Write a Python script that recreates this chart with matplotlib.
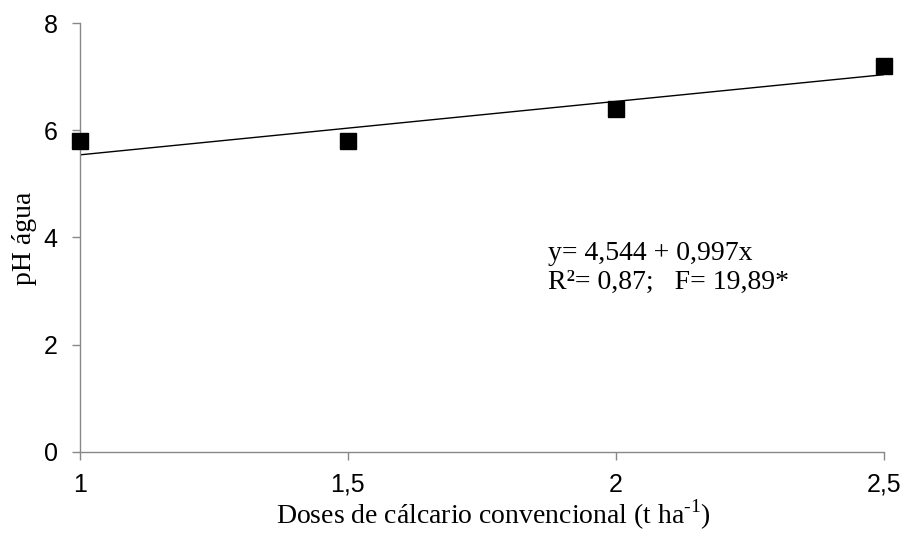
import matplotlib
matplotlib.use("Agg")
import matplotlib.pyplot as plt
import numpy as np

plt.rcParams["mathtext.fontset"] = "custom"
plt.rcParams["mathtext.rm"] = "Liberation Serif"

doses = [1.0, 1.5, 2.0, 2.5]
ph_agua = [5.8, 5.8, 6.4, 7.2]
intercept = 4.544
slope = 0.997
x_ticks = [1.0, 1.5, 2.0, 2.5]
x_tick_labels = ["1", "1,5", "2", "2,5"]
y_ticks = [0, 2, 4, 6, 8]

fig = plt.figure(figsize=(9.04, 5.36), dpi=100)
ax = fig.add_axes([0.0885, 0.157, 0.889, 0.800])

x_fit = np.array([doses[0], doses[-1]])
ax.plot(x_fit, intercept + slope * x_fit, color="black", linewidth=1.0, zorder=2)
ax.plot(doses, ph_agua, linestyle="none", marker="s", markersize=11.5,
        color="black", clip_on=False, zorder=3)

ax.set_xlim(1, 2.5)
ax.set_ylim(0, 8)
ax.set_xticks(x_ticks)
ax.set_xticklabels(x_tick_labels)
ax.set_yticks(y_ticks)

for side in ["top", "right"]:
    ax.spines[side].set_visible(False)
for side in ["left", "bottom"]:
    ax.spines[side].set_color("#888888")
    ax.spines[side].set_linewidth(1.0)

ax.tick_params(axis="both", colors="#888888", labelcolor="black", length=6,
               width=1.0, labelsize=18)
ax.tick_params(axis="x", pad=9)
ax.tick_params(axis="y", pad=10)
for lab in ax.get_xticklabels() + ax.get_yticklabels():
    lab.set_family("Liberation Sans")

fig.text(493 / 904, 1 - 515 / 536,
         r"Doses de cálcario convencional (t ha$^{\text{-}1}$)",
         family="Liberation Serif", fontsize=20, ha="center", va="center")
fig.text(25 / 904, 1 - 238 / 536, "pH água", family="Liberation Serif",
         fontsize=20, ha="center", va="center", rotation=90)

ax.text(1.873, 3.43, "y= 4,544 + 0,997x\nR²= 0,87;   F= 19,89*",
        family="Liberation Serif", fontsize=20, va="center", ha="left",
        linespacing=1.25, transform=ax.transData)

fig.savefig("out.png", dpi=100)
